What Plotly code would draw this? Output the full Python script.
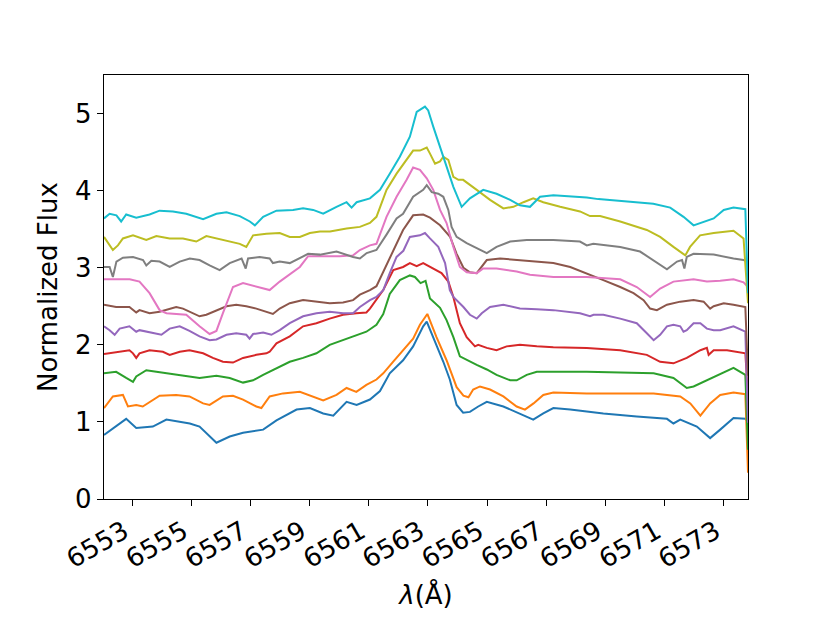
import plotly.graph_objects as go

# Wavelength ticks
tick_vals = [6553, 6555, 6557, 6559, 6561, 6563, 6565, 6567, 6569, 6571, 6573]

# C0 (blue)
wl_c0 = [6552.05, 6552.80, 6553.14, 6553.70, 6554.16, 6554.95, 6555.28, 6555.85, 6556.30, 6556.75,
         6557.43, 6557.88, 6558.56, 6559.01, 6559.46, 6559.80, 6560.25, 6560.59, 6561.04, 6561.38,
         6561.71, 6562.16, 6562.50, 6562.84, 6562.96, 6563.24, 6563.52, 6563.74, 6563.97, 6564.19,
         6564.42, 6564.70, 6564.99, 6565.55, 6566.11, 6566.56, 6566.90, 6567.24, 6567.81, 6568.93,
         6570.06, 6571.08, 6571.30, 6571.53, 6572.09, 6572.54, 6572.88, 6573.33, 6573.73, 6573.82]
fl_c0 = [0.83, 1.04, 0.92, 0.94, 1.03, 0.98, 0.94, 0.73, 0.81, 0.86,
         0.90, 1.02, 1.16, 1.18, 1.11, 1.08, 1.26, 1.22, 1.29, 1.40,
         1.63, 1.80, 1.98, 2.24, 2.30, 2.05, 1.78, 1.55, 1.22, 1.12,
         1.13, 1.20, 1.26, 1.20, 1.11, 1.03, 1.11, 1.18, 1.16, 1.11,
         1.07, 1.04, 0.98, 1.03, 0.94, 0.79, 0.90, 1.05, 1.04, 1.00]

# C1 (orange)
wl_c1 = [6552.05, 6552.35, 6552.69, 6552.86, 6553.14, 6553.36, 6553.93, 6554.49, 6554.94, 6555.40,
         6555.62, 6556.07, 6556.41, 6556.75, 6557.20, 6557.37, 6557.65, 6558.10, 6558.67, 6559.12,
         6559.46, 6559.91, 6560.25, 6560.58, 6560.92, 6561.26, 6561.49, 6561.82, 6562.16, 6562.50,
         6562.73, 6562.98, 6563.29, 6563.63, 6563.97, 6564.20, 6564.37, 6564.53, 6564.76, 6565.10,
         6565.55, 6566.00, 6566.28, 6566.57, 6566.90, 6567.24, 6568.37, 6569.50, 6570.63, 6571.53,
         6571.87, 6572.21, 6572.54, 6572.88, 6573.33, 6573.73, 6573.82]
fl_c1 = [1.18, 1.33, 1.35, 1.20, 1.22, 1.20, 1.34, 1.35, 1.33, 1.24,
         1.22, 1.33, 1.34, 1.29, 1.20, 1.18, 1.33, 1.37, 1.39, 1.33,
         1.28, 1.35, 1.44, 1.39, 1.48, 1.55, 1.63, 1.78, 1.93, 2.08,
         2.26, 2.40, 2.10, 1.80, 1.45, 1.34, 1.32, 1.42, 1.46, 1.42,
         1.33, 1.20, 1.16, 1.24, 1.35, 1.38, 1.37, 1.37, 1.37, 1.33,
         1.24, 1.08, 1.24, 1.35, 1.38, 1.36, 0.34]

# C2 (green)
wl_c2 = [6552.05, 6552.46, 6552.80, 6553.03, 6553.14, 6553.48, 6553.82, 6554.16, 6554.49, 6554.94,
         6555.28, 6555.85, 6556.30, 6556.75, 6557.09, 6557.43, 6557.88, 6558.33, 6558.78, 6559.23,
         6559.68, 6560.13, 6560.58, 6560.92, 6561.26, 6561.49, 6561.71, 6562.05, 6562.39, 6562.56,
         6562.75, 6562.92, 6563.07, 6563.41, 6563.63, 6563.86, 6564.08, 6564.42, 6564.65, 6564.99,
         6565.32, 6565.78, 6566.00, 6566.34, 6566.68, 6567.24, 6568.37, 6569.50, 6570.63, 6571.30,
         6571.75, 6571.98, 6572.32, 6572.66, 6573.11, 6573.33, 6573.73, 6573.82]
fl_c2 = [1.63, 1.65, 1.57, 1.52, 1.59, 1.67, 1.65, 1.63, 1.61, 1.59,
         1.57, 1.60, 1.57, 1.51, 1.54, 1.61, 1.70, 1.78, 1.83, 1.89,
         2.00, 2.06, 2.12, 2.17, 2.26, 2.40, 2.66, 2.84, 2.90, 2.88,
         2.80, 2.83, 2.60, 2.48, 2.32, 2.10, 1.85, 1.78, 1.74, 1.68,
         1.61, 1.54, 1.54, 1.61, 1.65, 1.65, 1.65, 1.64, 1.63, 1.57,
         1.44, 1.46, 1.52, 1.59, 1.67, 1.70, 1.61, 0.64]

# C3 (red)
wl_c3 = [6552.05, 6552.46, 6552.91, 6553.03, 6553.14, 6553.25, 6553.59, 6554.04, 6554.27, 6554.61,
         6554.94, 6555.40, 6555.73, 6556.07, 6556.41, 6556.75, 6557.20, 6557.54, 6557.65, 6557.88,
         6558.33, 6558.78, 6559.23, 6559.68, 6560.13, 6560.58, 6560.92, 6561.04, 6561.26, 6561.49,
         6561.83, 6562.16, 6562.39, 6562.62, 6562.84, 6563.07, 6563.46, 6563.69, 6563.86, 6564.08,
         6564.31, 6564.59, 6564.70, 6564.99, 6565.32, 6565.66, 6566.11, 6566.68, 6567.24, 6568.37,
         6569.50, 6570.40, 6570.85, 6571.30, 6571.75, 6572.21, 6572.43, 6572.49, 6572.66, 6573.11,
         6573.73, 6573.82]
fl_c3 = [1.88, 1.90, 1.93, 1.89, 1.83, 1.89, 1.93, 1.91, 1.87, 1.91,
         1.93, 1.89, 1.83, 1.78, 1.77, 1.83, 1.87, 1.89, 1.91, 2.02,
         2.11, 2.24, 2.28, 2.34, 2.39, 2.41, 2.42, 2.47, 2.58, 2.71,
         2.97, 3.01, 3.06, 3.02, 3.06, 3.01, 2.93, 2.82, 2.62, 2.28,
         2.10, 1.98, 2.00, 1.96, 1.93, 1.98, 2.00, 1.98, 1.97, 1.96,
         1.93, 1.87, 1.78, 1.76, 1.83, 1.93, 1.96, 1.87, 1.93, 1.93,
         1.89, 1.33]

# C4 (purple)
wl_c4 = [6552.05, 6552.24, 6552.41, 6552.58, 6552.91, 6553.14, 6553.25, 6553.48, 6553.82, 6553.99,
         6554.27, 6554.61, 6554.94, 6555.28, 6555.62, 6555.85, 6556.19, 6556.52, 6556.86, 6556.97,
         6557.09, 6557.43, 6557.71, 6557.99, 6558.33, 6558.78, 6559.23, 6559.68, 6560.13, 6560.47,
         6560.70, 6561.04, 6561.26, 6561.49, 6561.71, 6561.94, 6562.17, 6562.39, 6562.73, 6562.90,
         6563.07, 6563.35, 6563.58, 6563.74, 6563.86, 6564.20, 6564.42, 6564.65, 6564.82, 6565.10,
         6565.55, 6566.11, 6566.68, 6567.24, 6568.14, 6568.48, 6568.60, 6568.93, 6569.50, 6570.06,
         6570.40, 6570.63, 6570.85, 6571.08, 6571.30, 6571.53, 6571.64, 6571.75, 6571.98, 6572.21,
         6572.43, 6572.66, 6572.88, 6573.33, 6573.73, 6573.82]
fl_c4 = [2.24, 2.19, 2.13, 2.21, 2.24, 2.17, 2.19, 2.17, 2.15, 2.13,
         2.21, 2.24, 2.18, 2.11, 2.06, 2.07, 2.13, 2.15, 2.13, 2.08,
         2.14, 2.16, 2.13, 2.19, 2.28, 2.37, 2.41, 2.43, 2.41, 2.41,
         2.49, 2.58, 2.62, 2.71, 2.93, 3.14, 3.22, 3.40, 3.42, 3.45,
         3.38, 3.27, 3.06, 2.71, 2.62, 2.49, 2.39, 2.34, 2.41, 2.49,
         2.52, 2.47, 2.46, 2.45, 2.41, 2.37, 2.39, 2.39, 2.34, 2.28,
         2.15, 2.06, 2.13, 2.24, 2.26, 2.24, 2.17, 2.19, 2.28, 2.28,
         2.21, 2.19, 2.19, 2.24, 2.17, 0.99]

# C5 (brown)
wl_c5 = [6552.05, 6552.46, 6552.91, 6553.14, 6553.25, 6553.59, 6553.93, 6554.27, 6554.49, 6554.72,
         6554.94, 6555.28, 6555.51, 6555.85, 6556.19, 6556.52, 6556.86, 6557.20, 6557.54, 6557.76,
         6557.99, 6558.33, 6558.78, 6559.23, 6559.68, 6560.13, 6560.47, 6560.70, 6561.04, 6561.26,
         6561.49, 6561.71, 6561.94, 6562.16, 6562.50, 6562.84, 6563.07, 6563.41, 6563.75, 6563.97,
         6564.20, 6564.42, 6564.65, 6564.82, 6564.99, 6565.44, 6566.11, 6566.68, 6567.24, 6567.81,
         6568.37, 6568.93, 6569.50, 6569.95, 6570.29, 6570.51, 6570.74, 6571.08, 6571.53, 6571.98,
         6572.32, 6572.54, 6572.66, 6573.00, 6573.33, 6573.73, 6573.82]
fl_c5 = [2.52, 2.49, 2.49, 2.42, 2.45, 2.41, 2.43, 2.47, 2.49, 2.47,
         2.43, 2.37, 2.39, 2.45, 2.50, 2.52, 2.50, 2.47, 2.43, 2.40,
         2.47, 2.54, 2.58, 2.56, 2.54, 2.55, 2.58, 2.65, 2.71, 2.76,
         2.95, 3.14, 3.32, 3.49, 3.68, 3.69, 3.65, 3.55, 3.40, 3.18,
         3.00, 2.94, 2.93, 3.01, 3.10, 3.12, 3.10, 3.08, 3.06, 3.01,
         2.93, 2.84, 2.75, 2.67, 2.58, 2.47, 2.45, 2.52, 2.56, 2.58,
         2.56, 2.47, 2.50, 2.54, 2.52, 2.49, 1.60]

# C6 (pink)
wl_c6 = [6552.05, 6552.92, 6553.25, 6553.59, 6553.93, 6554.16, 6554.83, 6555.28, 6555.62, 6555.85,
         6556.07, 6556.41, 6556.75, 6557.20, 6557.65, 6557.99, 6558.67, 6558.95, 6559.35, 6560.02,
         6560.47, 6560.70, 6561.04, 6561.26, 6561.60, 6561.94, 6562.28, 6562.50, 6562.73, 6562.96,
         6563.18, 6563.41, 6563.63, 6563.86, 6564.08, 6564.31, 6564.65, 6564.87, 6565.32, 6566.00,
         6566.45, 6567.24, 6568.37, 6569.50, 6570.06, 6570.51, 6570.85, 6571.30, 6571.98, 6572.43,
         6572.88, 6573.33, 6573.67, 6573.82]
fl_c6 = [2.85, 2.85, 2.82, 2.67, 2.45, 2.41, 2.39, 2.24, 2.14, 2.18,
         2.41, 2.75, 2.80, 2.75, 2.71, 2.82, 3.01, 3.15, 3.15, 3.15,
         3.16, 3.23, 3.29, 3.31, 3.66, 3.92, 4.14, 4.30, 4.27, 4.16,
         4.01, 3.75, 3.58, 3.27, 3.01, 2.94, 2.93, 2.99, 2.99, 2.95,
         2.91, 2.88, 2.88, 2.85, 2.75, 2.62, 2.73, 2.82, 2.85, 2.82,
         2.83, 2.85, 2.81, 2.75]

# C7 (gray)
wl_c7 = [6552.05, 6552.24, 6552.35, 6552.47, 6552.69, 6553.03, 6553.37, 6553.48, 6553.65, 6553.93,
         6554.27, 6554.61, 6554.95, 6555.28, 6555.62, 6555.96, 6556.30, 6556.70, 6556.84, 6556.92,
         6557.31, 6557.65, 6557.76, 6557.99, 6558.33, 6558.67, 6558.95, 6559.35, 6559.91, 6560.47,
         6560.70, 6560.93, 6561.26, 6561.60, 6561.94, 6562.16, 6562.50, 6562.84, 6562.96, 6563.13,
         6563.35, 6563.52, 6563.69, 6563.80, 6563.97, 6564.31, 6564.65, 6564.99, 6565.32, 6565.78,
         6566.34, 6567.24, 6568.14, 6568.37, 6568.59, 6569.50, 6570.17, 6570.62, 6571.08, 6571.42,
         6571.59, 6571.67, 6571.75, 6571.98, 6572.66, 6573.33, 6573.67, 6573.82]
fl_c7 = [3.01, 3.01, 2.88, 3.08, 3.13, 3.14, 3.10, 3.03, 3.09, 3.08,
         3.01, 3.08, 3.12, 3.10, 3.03, 2.97, 3.06, 3.12, 2.99, 3.12,
         3.14, 3.12, 3.06, 3.08, 3.06, 3.12, 3.18, 3.17, 3.21, 3.14,
         3.12, 3.19, 3.23, 3.43, 3.64, 3.70, 3.92, 4.01, 4.07, 3.98,
         3.96, 3.92, 3.75, 3.53, 3.40, 3.32, 3.25, 3.19, 3.27, 3.34,
         3.36, 3.36, 3.34, 3.29, 3.31, 3.27, 3.21, 3.10, 2.98, 3.08,
         3.10, 2.99, 3.14, 3.18, 3.17, 3.12, 3.10, 3.08]

# C8 (olive)
wl_c8 = [6552.05, 6552.18, 6552.35, 6552.52, 6552.69, 6553.03, 6553.48, 6553.82, 6554.27, 6554.72,
         6555.17, 6555.51, 6555.85, 6556.30, 6556.64, 6556.86, 6557.09, 6557.54, 6557.99, 6558.33,
         6558.67, 6559.01, 6559.35, 6559.69, 6560.25, 6560.70, 6561.04, 6561.26, 6561.60, 6561.94,
         6562.28, 6562.50, 6562.73, 6562.96, 6563.07, 6563.24, 6563.41, 6563.52, 6563.69, 6563.86,
         6564.03, 6564.19, 6564.65, 6565.10, 6565.55, 6565.89, 6566.23, 6566.56, 6566.90, 6567.47,
         6568.14, 6568.48, 6568.82, 6569.50, 6570.40, 6570.85, 6571.30, 6571.70, 6571.86, 6572.20,
         6572.66, 6573.11, 6573.33, 6573.67, 6573.82]
fl_c8 = [3.40, 3.32, 3.23, 3.29, 3.38, 3.42, 3.36, 3.41, 3.38, 3.38,
         3.34, 3.41, 3.38, 3.34, 3.31, 3.27, 3.42, 3.44, 3.45, 3.40,
         3.40, 3.45, 3.47, 3.47, 3.51, 3.53, 3.58, 3.66, 4.01, 4.22,
         4.40, 4.52, 4.52, 4.56, 4.48, 4.35, 4.38, 4.44, 4.40, 4.18,
         4.14, 4.14, 4.01, 3.88, 3.77, 3.79, 3.85, 3.90, 3.85, 3.79,
         3.73, 3.67, 3.67, 3.60, 3.49, 3.40, 3.27, 3.16, 3.27, 3.42,
         3.45, 3.47, 3.48, 3.38, 2.54]

# C9 (cyan)
wl_c9 = [6552.05, 6552.24, 6552.47, 6552.63, 6552.80, 6553.14, 6553.59, 6553.93, 6554.38, 6554.83,
         6555.40, 6555.85, 6556.19, 6556.64, 6556.98, 6557.15, 6557.43, 6557.88, 6558.44, 6558.78,
         6559.12, 6559.46, 6559.91, 6560.25, 6560.42, 6560.59, 6561.04, 6561.38, 6561.71, 6562.05,
         6562.39, 6562.62, 6562.90, 6563.01, 6563.18, 6563.52, 6563.86, 6564.14, 6564.42, 6564.87,
         6565.32, 6565.78, 6566.11, 6566.45, 6566.79, 6567.24, 6568.37, 6568.76, 6569.50, 6570.62,
         6571.19, 6571.64, 6571.98, 6572.32, 6572.66, 6573.00, 6573.33, 6573.73, 6573.82]
fl_c9 = [3.64, 3.70, 3.68, 3.60, 3.69, 3.65, 3.69, 3.74, 3.73, 3.70,
         3.63, 3.70, 3.72, 3.67, 3.60, 3.55, 3.66, 3.74, 3.75, 3.77,
         3.75, 3.70, 3.79, 3.85, 3.78, 3.85, 3.90, 4.01, 4.22, 4.44,
         4.70, 5.02, 5.09, 5.04, 4.83, 4.44, 4.05, 3.79, 3.90, 4.01,
         3.96, 3.88, 3.81, 3.79, 3.92, 3.94, 3.91, 3.89, 3.87, 3.83,
         3.78, 3.66, 3.55, 3.60, 3.64, 3.75, 3.78, 3.76, 2.67]

series = [
    (wl_c0, fl_c0, "#1f77b4"),
    (wl_c1, fl_c1, "#ff7f0e"),
    (wl_c2, fl_c2, "#2ca02c"),
    (wl_c3, fl_c3, "#d62728"),
    (wl_c4, fl_c4, "#9467bd"),
    (wl_c5, fl_c5, "#8c564b"),
    (wl_c6, fl_c6, "#e377c2"),
    (wl_c7, fl_c7, "#7f7f7f"),
    (wl_c8, fl_c8, "#bcbd22"),
    (wl_c9, fl_c9, "#17becf"),
]

fig = go.Figure()
for wl, fl, col in series:
    fig.add_trace(go.Scatter(x=wl, y=fl, mode="lines",
                             line=dict(color=col, width=2), showlegend=False))

font_family = "DejaVu Sans"
axis_common = dict(
    showgrid=False, zeroline=False, showline=True, linecolor="black", linewidth=1.3,
    mirror=True, ticks="outside", ticklen=6, tickwidth=1.3, tickcolor="black",
    tickfont=dict(family=font_family, size=26, color="black"), automargin=False,
)

fig.update_layout(
    width=830, height=623,
    margin=dict(l=104, r=82, t=75, b=124),
    paper_bgcolor="white", plot_bgcolor="white",
    xaxis=dict(range=[6552.05, 6573.82], tickvals=tick_vals,
               ticktext=[str(v) for v in tick_vals], tickangle=-30, ticklabelshift=-8,
               title=dict(text="<i>λ</i>(Å)", font=dict(family=font_family, size=26, color="black"),
                          standoff=12),
               **axis_common),
    yaxis=dict(range=[0, 5.5], tickvals=[0, 1, 2, 3, 4, 5],
               title=dict(text="Normalized Flux", font=dict(family=font_family, size=26, color="black"),
                          standoff=10),
               **axis_common),
)

fig.write_html("out.html", config={"displayModeBar": False},
               post_script="document.body.style.margin='0px';")
